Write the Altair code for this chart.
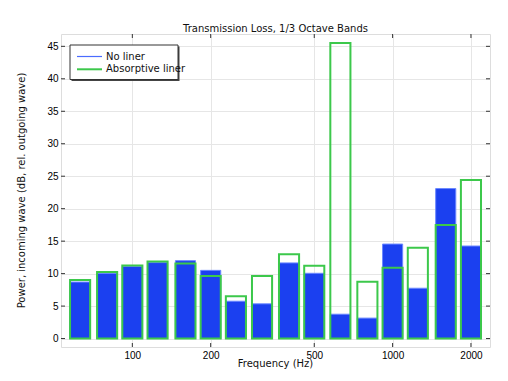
import altair as alt
import pandas as pd

# 1/3 octave band centre frequencies (Hz)
freqs = [63, 80, 100, 125, 160, 200, 250, 315, 400, 500, 630, 800, 1000, 1250, 1600, 2000]
no_liner = [8.7, 10.05, 11.1, 11.7, 12.0, 10.5, 5.75, 5.35, 11.65, 10.05, 3.75, 3.15, 14.55, 7.75, 23.1, 14.25]
absorptive = [9.0, 10.25, 11.25, 11.85, 11.55, 9.65, 6.5, 9.65, 13.0, 11.2, 45.5, 8.75, 10.9, 14.0, 17.5, 24.4]
series_names = ["No liner", "Absorptive liner"]
x_ticks = [100, 200, 500, 1000, 2000]
y_ticks = [0, 5, 10, 15, 20, 25, 30, 35, 40, 45]
title_text = "Transmission Loss, 1/3 Octave Bands"
x_title = "Frequency (Hz)"
y_title = "Power, incoming wave (dB, rel. outgoing wave)"

BAR_FRACTION = 0.77  # fraction of the 1/3-octave band covered by a bar
half = 2 ** (BAR_FRACTION / 6)

rows = []
for name, vals in zip(series_names, [no_liner, absorptive]):
    for f, v in zip(freqs, vals):
        rows.append({"series": name, "f": f, "lo": f / half, "hi": f * half, "v": v, "base": 0})
df = pd.DataFrame(rows)

W, H = 429, 313
FONT = "DejaVu Sans"
BLUE = "#1b40f0"
BLUE_EDGE = "#6b88ff"
BLUE_LEG = "#4a6cff"
GREEN = "#3cc84b"
TXT = "#111111"

xscale = alt.Scale(type="log", domain=[53.2, 2367], nice=False)
yscale = alt.Scale(domain=[-1.3, 46.9], nice=False, zero=False)

x_axis = alt.Axis(values=x_ticks, format="d", title=None, ticks=False, tickSize=0,
                  domain=False, grid=True, gridColor="#e6e6e6", labelPadding=3, labelOverlap=False)
y_axis = alt.Axis(values=y_ticks, title=None, ticks=False, tickSize=0, domain=False, grid=True,
                  gridColor="#e6e6e6", labelPadding=3, labelOverlap=False)

bars = alt.Chart(df).mark_rect().encode(
    x=alt.X("lo:Q", scale=xscale, axis=x_axis),
    x2="hi:Q",
    y=alt.Y("base:Q", scale=yscale, axis=y_axis),
    y2="v:Q",
    stroke=alt.Stroke("series:N", scale=alt.Scale(domain=series_names, range=[BLUE_EDGE, GREEN]), legend=None),
    fill=alt.condition(alt.datum.series == "No liner", alt.value(BLUE), alt.value("transparent")),
    strokeWidth=alt.condition(alt.datum.series == "No liner", alt.value(1), alt.value(2)),
    order=alt.Order("series:N", sort="descending"),
)

ydf = pd.DataFrame({"v": y_ticks})
xdf = pd.DataFrame({"f": x_ticks})
tick_style = dict(color="#333333", strokeWidth=1)
yt_left = alt.Chart(ydf).mark_rule(**tick_style).encode(y=alt.Y("v:Q", scale=yscale, axis=y_axis), x=alt.value(0), x2=alt.value(4))
yt_right = alt.Chart(ydf).mark_rule(**tick_style).encode(y=alt.Y("v:Q", scale=yscale, axis=y_axis), x=alt.value(W - 4), x2=alt.value(W))
xt_bot = alt.Chart(xdf).mark_rule(**tick_style).encode(x=alt.X("f:Q", scale=xscale, axis=x_axis), y=alt.value(H - 4), y2=alt.value(H))
xt_top = alt.Chart(xdf).mark_rule(**tick_style).encode(x=alt.X("f:Q", scale=xscale, axis=x_axis), y=alt.value(0), y2=alt.value(4))

# axis titles
one = pd.DataFrame({"t": [0]})
xtitle = alt.Chart(one).mark_text(text=x_title, font=FONT, fontSize=10, color=TXT, align="center",
                                  baseline="middle").encode(x=alt.value(W / 2), y=alt.value(H + 17))
ytitle = alt.Chart(one).mark_text(text=y_title, font=FONT, fontSize=10, color=TXT, align="center",
                                  baseline="middle", angle=270).encode(x=alt.value(-39), y=alt.value(H / 2))

# legend box (with drop shadow)
LX0, LX1, LY0, LY1 = 9, 117, 11, 45.5
shadow = alt.Chart(one).mark_rect(color="#444444").encode(
    x=alt.value(LX0 + 1.5), x2=alt.value(LX1 + 1.5), y=alt.value(LY0 + 1.5), y2=alt.value(LY1 + 1.5))
box = alt.Chart(one).mark_rect(fill="white", stroke="#333333", strokeWidth=1).encode(
    x=alt.value(LX0), x2=alt.value(LX1), y=alt.value(LY0), y2=alt.value(LY1))
leg_blue = alt.Chart(one).mark_rule(color=BLUE_LEG, strokeWidth=1.2).encode(
    x=alt.value(16), x2=alt.value(41), y=alt.value(22.5))
leg_green = alt.Chart(one).mark_rule(color=GREEN, strokeWidth=2).encode(
    x=alt.value(16), x2=alt.value(41), y=alt.value(35.3))
leg_t1 = alt.Chart(one).mark_text(text=series_names[0], font=FONT, fontSize=10, color=TXT, align="left",
                                  baseline="middle").encode(x=alt.value(45), y=alt.value(22.5))
leg_t2 = alt.Chart(one).mark_text(text=series_names[1], font=FONT, fontSize=10, color=TXT, align="left",
                                  baseline="middle").encode(x=alt.value(45), y=alt.value(35.3))

chart = alt.layer(bars, yt_left, yt_right, xt_bot, xt_top, xtitle, ytitle,
                  shadow, box, leg_blue, leg_green, leg_t1, leg_t2).properties(
    width=W, height=H,
    title=alt.TitleParams(title_text, fontSize=10, fontWeight="normal",
                          font=FONT, color=TXT, offset=0),
    autosize=alt.AutoSizeParams(type="none"),
    padding={"left": 53, "top": 26, "right": 10, "bottom": 26},
).configure_view(stroke="#3a3a3a", strokeWidth=1.2).configure_axis(
    labelFont=FONT, labelFontSize=10, labelColor=TXT,
).configure(background="white")

chart.save("out.html", embed_options={"renderer": "svg", "actions": False})
